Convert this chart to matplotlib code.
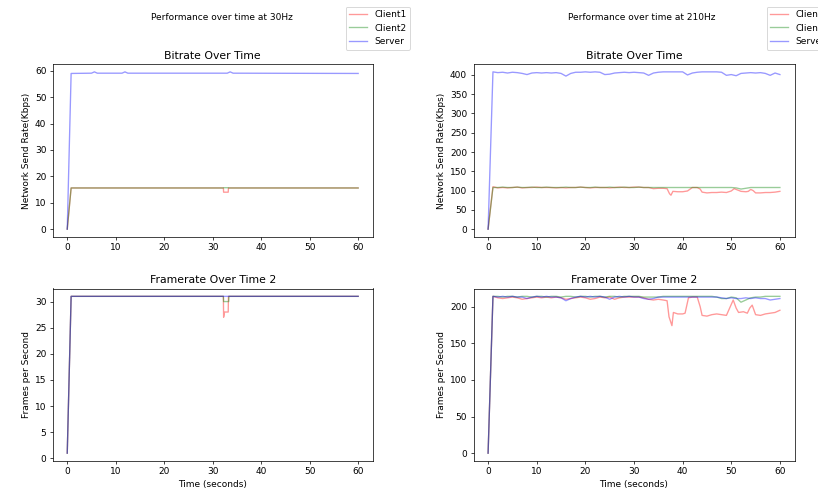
import matplotlib
matplotlib.use("Agg")
import matplotlib.pyplot as plt

# ---------------- 30 Hz data (breakpoints: time, value) ----------------
t_br30_c1 = [0, 0.8, 32.2, 32.25, 33.2, 33.25, 60]
v_br30_c1 = [0, 15.6, 15.6, 14.0, 14.0, 15.6, 15.6]
t_br30_c2 = [0, 0.8, 32.2, 32.25, 33.2, 33.25, 60]
v_br30_c2 = [0, 15.6, 15.6, 15.7, 15.7, 15.6, 15.6]
t_br30_sv = [0, 0.8, 5.0, 5.6, 6.2, 11.3, 11.9, 12.5, 33.0, 33.6, 34.2, 60]
v_br30_sv = [0, 59.0, 59.1, 59.6, 59.1, 59.1, 59.6, 59.1, 59.1, 59.6, 59.1, 59.0]

t_fr30_c1 = [0, 0.8, 32.2, 32.25, 32.45, 33.2, 33.25, 60]
v_fr30_c1 = [1, 31, 31, 27, 28, 28, 31, 31]
t_fr30_c2 = [0, 0.8, 32.2, 32.25, 33.3, 33.35, 60]
v_fr30_c2 = [1, 31, 31, 30, 30, 31, 31]
t_fr30_sv = [0, 0.8, 60]
v_fr30_sv = [1, 31, 31]

# ---------------- 210 Hz data ----------------
t_grid = list(range(61))

v_br210_sv = [0, 408, 406, 407, 405, 407, 406, 404, 401, 405,
              406, 405, 406, 405, 406, 404, 397, 404, 407, 407,
              408, 407, 408, 407, 401, 402, 405, 406, 407, 406,
              407, 406, 405, 399, 405, 407, 408, 408, 408, 408,
              408, 400, 405, 407, 408, 408, 408, 408, 407, 399,
              401, 398, 404, 405, 406, 405, 406, 404, 399, 405, 401]
v_br210_c2 = [0, 108, 108, 109, 108, 108, 109, 108, 108, 109,
              108, 108, 109, 108, 108, 108, 109, 108, 108, 109,
              108, 108, 109, 108, 108, 109, 108, 108, 109, 108,
              108, 109, 108, 108, 108, 108, 108, 108, 108, 108,
              108, 108, 108, 108, 108, 108, 108, 108, 108, 108,
              108, 107, 104, 106, 108, 108, 108, 108, 108, 108, 108]
t_br210_c1 = [0, 1, 2, 3, 4, 5, 6, 7, 8, 9, 10, 11, 12, 13, 14, 15, 16, 17, 18, 19,
              20, 21, 22, 23, 24, 25, 26, 27, 28, 29, 30, 31, 32, 33, 34, 35, 36,
              36.8, 37.3, 37.6, 38, 39, 40, 41, 42, 43, 43.6, 44, 45, 46, 47, 48, 49,
              50, 50.6, 51, 52, 53, 53.5, 54, 54.5, 55, 56, 57, 58, 59, 60]
v_br210_c1 = [0, 110, 107, 108, 107, 108, 109, 107, 108, 108, 109, 108, 108, 108, 107, 108, 107, 108, 108, 109,
              108, 107, 108, 108, 108, 107, 108, 109, 108, 108, 109, 109, 108, 108, 105, 106, 106,
              105, 92, 88, 98, 97, 97, 99, 108, 108, 104, 96, 94, 95, 95, 96, 95,
              99, 105, 103, 98, 97, 98, 103, 100, 94, 94, 95, 95, 96, 98]

v_fr210_sv = [0, 214, 213, 214, 213, 214, 213, 213, 211, 213,
              214, 213, 214, 213, 213, 212, 208, 211, 213, 214,
              213, 214, 213, 214, 213, 210, 213, 214, 213, 214,
              213, 213, 211, 210, 211, 213, 213, 213, 213, 213,
              213, 213, 213, 213, 213, 213, 213, 213, 212, 211,
              212, 211, 211, 212, 211, 212, 211, 211, 209, 210, 211]
v_fr210_c2 = [0, 214, 214, 213, 214, 214, 213, 214, 214, 213,
              214, 214, 213, 214, 214, 213, 214, 214, 213, 214,
              214, 213, 214, 214, 213, 214, 214, 213, 214, 214,
              214, 214, 213, 213, 213, 213, 214, 214, 214, 214,
              214, 214, 214, 214, 214, 214, 214, 213, 211, 211,
              213, 212, 206, 209, 212, 213, 213, 214, 214, 214, 214]
t_fr210_c1 = [0, 1, 2, 3, 4, 5, 6, 7, 8, 9, 10, 11, 12, 13, 14, 15, 16, 17, 18, 19,
              20, 21, 22, 23, 24, 25, 26, 27, 28, 29, 30, 31, 32, 33, 34, 35, 36,
              36.8, 37.2, 37.8, 38.1, 39, 40, 40.5, 41.2, 42, 43, 43.6, 44, 45, 46, 47, 48, 49,
              49.8, 50.4, 51, 51.5, 52.5, 53.3, 53.8, 54.3, 55, 56, 57, 58, 59, 60]
v_fr210_c1 = [0, 214, 212, 211, 212, 213, 212, 210, 211, 212, 213, 212, 213, 212, 213, 212, 210, 211, 212, 213,
              212, 210, 211, 213, 212, 213, 210, 212, 213, 213, 213, 213, 212, 210, 209, 210, 209,
              208, 186, 174, 192, 190, 190, 191, 212, 213, 213, 200, 188, 187, 189, 190, 189, 188,
              200, 209, 198, 192, 193, 191, 198, 202, 189, 188, 190, 191, 192, 195]

series_names = ["Client1", "Client2", "Server"]
colors = ["red", "green", "blue"]
ALPHA = 0.4

W, H = 818, 489
DPI = 65
fig = plt.figure(figsize=(W / DPI, H / DPI), dpi=DPI)


def box(x0, y0, x1, y1):
    return [x0 / W, 1 - y1 / H, (x1 - x0) / W, (y1 - y0) / H]


def panel(rect, data, title, ylabel, xlabel=None):
    ax = fig.add_axes(rect)
    lines = []
    for (t, v), c, n in zip(data, colors, series_names):
        ln, = ax.plot(t, v, color=c, alpha=ALPHA, label=n)
        lines.append(ln)
    ax.set_title(title)
    ax.set_ylabel(ylabel)
    if xlabel:
        ax.set_xlabel(xlabel)
    return ax, lines


xl = (52.7, 372.7)
xr = (473.5, 794.5)
yt = (64, 237)
yb = (288.5, 461)

ax, lines = panel(box(xl[0], yt[0], xl[1], yt[1]),
                  [(t_br30_c1, v_br30_c1), (t_br30_c2, v_br30_c2), (t_br30_sv, v_br30_sv)],
                  "Bitrate Over Time", "Network Send Rate(Kbps)")
panel(box(xl[0], yb[0], xl[1], yb[1]),
      [(t_fr30_c1, v_fr30_c1), (t_fr30_c2, v_fr30_c2), (t_fr30_sv, v_fr30_sv)],
      "Framerate Over Time 2", "Frames per Second", "Time (seconds)")
panel(box(xr[0], yt[0], xr[1], yt[1]),
      [(t_br210_c1, v_br210_c1), (t_grid, v_br210_c2), (t_grid, v_br210_sv)],
      "Bitrate Over Time", "Network Send Rate(Kbps)")
panel(box(xr[0], yb[0], xr[1], yb[1]),
      [(t_fr210_c1, v_fr210_c1), (t_grid, v_fr210_c2), (t_grid, v_fr210_sv)],
      "Framerate Over Time 2", "Frames per Second", "Time (seconds)")

fig.text(222 / W, 1 - 17 / H, "Performance over time at 30Hz", ha="center", va="center", fontsize=10)
fig.text(642 / W, 1 - 17 / H, "Performance over time at 210Hz", ha="center", va="center", fontsize=10)

fig.legend(lines, series_names, loc="upper left", bbox_to_anchor=(341 / W, 1 - 2 / H))
fig.legend(lines, series_names, loc="upper left", bbox_to_anchor=(762 / W, 1 - 2 / H))

fig.savefig("out.png", dpi=DPI)
